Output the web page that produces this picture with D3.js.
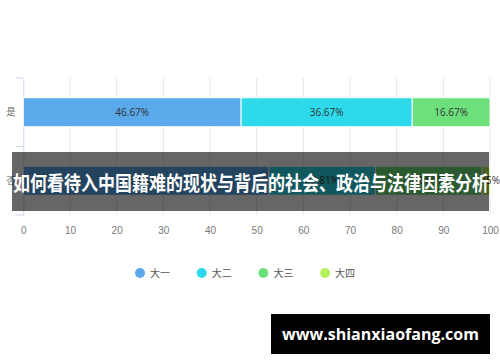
<!DOCTYPE html>
<html>
<head>
<meta charset="utf-8">
<script src="https://cdn.jsdelivr.net/npm/d3@7"></script>
<style>
  body { margin: 0; background: #fff; }
  svg { display: block; font-family: "Noto Sans CJK SC", "Noto Sans", sans-serif; }
</style>
</head>
<body>
<script>
// chart size
var w = 500;
var h = 362;

// categories on y axis, series names, values in percent
var categories = ["是", "否"];
var seriesNames = ["大一", "大二", "大三", "大四"];
var year1 = [46.67, 52.63];
var year2 = [36.67, 22.81];
var year3 = [16.67, 22.81];
var year4 = [0, 1.75];
var xTicks = [0, 10, 20, 30, 40, 50, 60, 70, 80, 90, 100];
var colors = ["#5aa9ea", "#2ddaec", "#6ce07b", "#b5f15b"];
var title = "如何看待入中国籍难的现状与背后的社会、政治与法律因素分析";
var watermark = "www.shianxiaofang.com";

// merge arrays into rows for d3.stack
var rows = categories.map(function(c, i) {
  return { cat: c, "大一": year1[i], "大二": year2[i], "大三": year3[i], "大四": year4[i] };
});

var svg = d3.select("body").append("svg")
  .attr("width", w)
  .attr("height", h);

var x = d3.scaleLinear().domain([0, 100]).range([23.3, 490]);
var y = d3.scaleBand().domain(categories).range([78, 215])
  .paddingInner(0.577).paddingOuter(0.2885);

// grid lines
svg.append("g")
  .selectAll("line")
  .data(xTicks.slice(1))
  .enter().append("line")
  .attr("x1", d => x(d)).attr("x2", d => x(d))
  .attr("y1", 78).attr("y2", 215)
  .attr("stroke", "#e6e6e6")
  .attr("stroke-width", 1);

// x axis labels only
var xAxis = svg.append("g")
  .attr("transform", "translate(0,215)")
  .call(d3.axisBottom(x).tickValues(xTicks).tickSize(0).tickPadding(12));
xAxis.select(".domain").remove();
xAxis.selectAll("text")
  .attr("fill", "#777")
  .style("font-size", "10px");

// y axis with ticks on band edges
var yAxis = svg.append("g")
  .attr("transform", "translate(23.3,0)")
  .call(d3.axisLeft(y).tickSize(0).tickPadding(7));
yAxis.select(".domain").attr("stroke", "#ccd6eb");
yAxis.selectAll("text")
  .attr("fill", "#666")
  .style("font-size", "10px");
yAxis.selectAll(".edge")
  .data([78, 146.5, 215])
  .enter().append("line")
  .attr("class", "edge")
  .attr("x1", -8).attr("x2", 0)
  .attr("y1", d => d).attr("y2", d => d)
  .attr("stroke", "#ccd6eb");

// stacked bars
var stack = d3.stack().keys(seriesNames);
var layers = stack(rows);

var layer = svg.append("g")
  .selectAll("g")
  .data(layers)
  .enter().append("g")
  .attr("fill", (d, i) => colors[i]);

layer.selectAll("rect")
  .data(d => d.filter(p => p[1] - p[0] > 0))
  .enter().append("rect")
  .attr("x", d => x(d[0]))
  .attr("y", d => y(d.data.cat))
  .attr("width", d => x(d[1]) - x(d[0]))
  .attr("height", y.bandwidth())
  .attr("stroke", "#fff")
  .attr("stroke-width", 1);

layer.selectAll("text")
  .data(d => d.filter(p => p[1] - p[0] > 0))
  .enter().append("text")
  .attr("x", d => (x(d[0]) + x(d[1])) / 2)
  .attr("y", d => y(d.data.cat) + y.bandwidth() / 2)
  .attr("dy", "0.35em")
  .attr("text-anchor", "middle")
  .attr("fill", "#333")
  .style("font-size", "10px")
  .style("font-family", "'Open Sans', sans-serif")
  .text(d => (d[1] - d[0]).toFixed(2) + "%");

// legend
var legend = svg.append("g")
  .selectAll("g")
  .data(seriesNames)
  .enter().append("g")
  .attr("transform", (d, i) => "translate(" + (140 + i * 61.7) + ",273)");

legend.append("circle")
  .attr("r", 5)
  .attr("fill", (d, i) => colors[i]);

legend.append("text")
  .attr("x", 10)
  .attr("dy", "0.35em")
  .attr("fill", "#555")
  .style("font-size", "10px")
  .text(d => d);

// title banner on top of the chart
svg.append("rect")
  .attr("x", 12).attr("y", 152)
  .attr("width", 477).attr("height", 59)
  .attr("fill", "#000")
  .attr("fill-opacity", 0.6);

svg.append("text")
  .attr("x", 251)
  .attr("y", 184)
  .attr("dy", "0.35em")
  .attr("text-anchor", "middle")
  .attr("fill", "#fff")
  .style("font-size", "20px")
  .style("font-weight", "bold")
  .attr("textLength", 476)
  .attr("lengthAdjust", "spacingAndGlyphs")
  .text(title);

// watermark box
svg.append("rect")
  .attr("x", 271).attr("y", 314)
  .attr("width", 219).attr("height", 40)
  .attr("fill", "#000");

svg.append("text")
  .attr("x", 380.5)
  .attr("y", 334)
  .attr("dy", "0.35em")
  .attr("text-anchor", "middle")
  .attr("fill", "#fff")
  .style("font-family", "'Open Sans', sans-serif")
  .style("font-size", "16px")
  .style("font-weight", "bold")
  .attr("textLength", 197)
  .attr("lengthAdjust", "spacingAndGlyphs")
  .text(watermark);
</script>
</body>
</html>
